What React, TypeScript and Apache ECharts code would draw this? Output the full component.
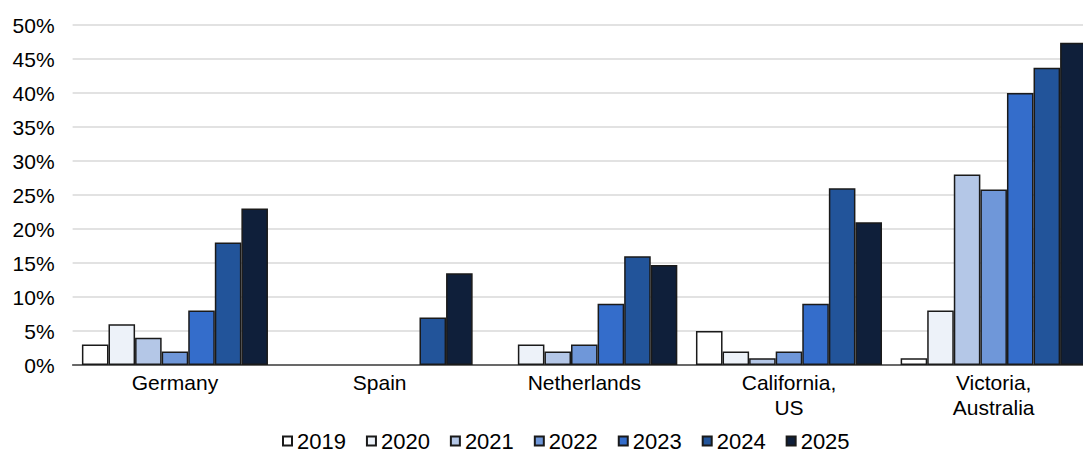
import React, { useEffect, useRef } from "react";
import * as echarts from "echarts";

const categories = ["Germany", "Spain", "Netherlands", "California,\nUS", "Victoria,\nAustralia"];
const years = ["2019", "2020", "2021", "2022", "2023", "2024", "2025"];
const colors = ["#FFFFFF", "#EDF2F9", "#B4C7E7", "#6F97D9", "#346DCB", "#22549A", "#0F1F3A"];
const values2019 = [3, 0, 0, 5, 1];
const values2020 = [6, 0, 3, 2, 8];
const values2021 = [4, 0, 2, 1, 28];
const values2022 = [2, 0, 3, 2, 25.8];
const values2023 = [8, 0, 9, 9, 40];
const values2024 = [18, 7, 16, 26, 43.7];
const values2025 = [23, 13.5, 14.7, 21, 47.4];
const yTicks = [0, 5, 10, 15, 20, 25, 30, 35, 40, 45, 50];

const seriesValues = [values2019, values2020, values2021, values2022, values2023, values2024, values2025];

export default function App() {
  const ref = useRef<HTMLDivElement>(null);
  useEffect(() => {
    if (!ref.current) return;
    const chart = echarts.init(ref.current, undefined, { renderer: "svg" });
    const font = "'Liberation Sans', Arial, sans-serif";
    chart.setOption({
      animation: false,
      textStyle: { fontFamily: font },
      grid: {
        left: 72.6,
        width: 1023.4,
        top: 25,
        bottom: 87,
        containLabel: false,
        outerBoundsMode: "none",
      },
      legend: {
        left: 282,
        top: 430,
        padding: 0,
        itemWidth: 9,
        itemHeight: 9,
        itemGap: 20,
        icon: "rect",
        textStyle: { fontSize: 22, lineHeight: 22, color: "#000", fontFamily: font },
        data: years.map((y) => ({ name: y })),
      },
      xAxis: {
        type: "category",
        data: categories,
        axisLine: { lineStyle: { color: "#404040", width: 1.5 } },
        axisTick: { show: false },
        axisLabel: { fontSize: 21, color: "#000", margin: 5, lineHeight: 25, fontFamily: font },
      },
      yAxis: {
        type: "value",
        min: yTicks[0],
        max: yTicks[yTicks.length - 1],
        interval: 5,
        axisLine: { show: false },
        axisTick: { show: false },
        splitLine: { lineStyle: { color: "#D9D9D9", width: 1.5 } },
        axisLabel: { fontSize: 21, color: "#000", margin: 18, formatter: "{value}%", fontFamily: font },
      },
      series: years.map((y, i) => ({
        name: y,
        type: "bar",
        barGap: "0%",
        barCategoryGap: "9.1%",
        itemStyle: { color: colors[i], borderColor: "#1a1a1a", borderWidth: 1.5 },
        data: seriesValues[i].map((v) =>
          v === 0 ? { value: v, itemStyle: { borderWidth: 0 } } : v
        ),
      })),
    });
    return () => chart.dispose();
  }, []);
  return (
    <div
      ref={ref}
      style={{ position: "absolute", left: 0, top: 0, width: 1083, height: 452, overflow: "hidden" }}
    />
  );
}
